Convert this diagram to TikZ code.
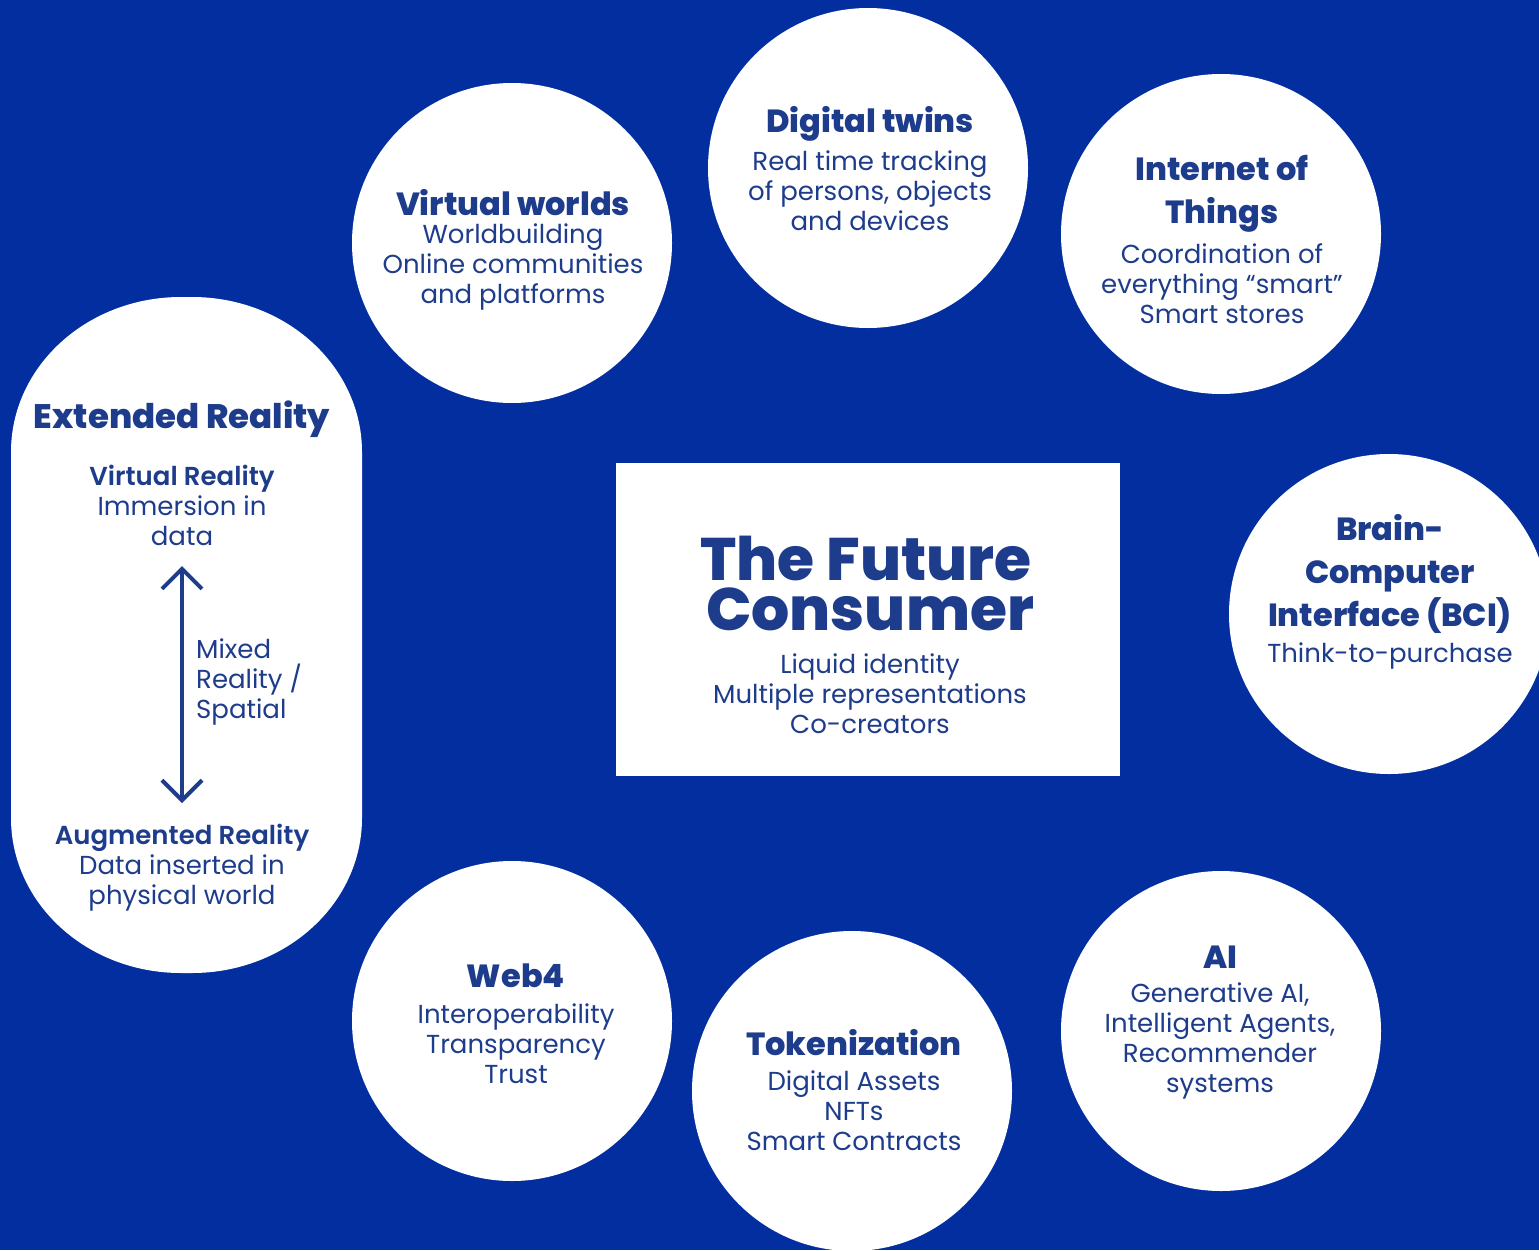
\documentclass[tikz,border=0pt]{standalone}
\usepackage{fontspec}
\setmainfont{Poppins}[BoldFont={* ExtraBold}]
\newfontfamily\semib{Poppins SemiBold}
\usetikzlibrary{arrows.meta}
\definecolor{bgblue}{RGB}{2,46,160}
\definecolor{ink}{RGB}{30,60,140}
\newcommand{\hd}{\fontsize{32}{43}\selectfont\bfseries}
\newcommand{\bd}{\fontsize{26}{30}\selectfont}
\newcommand{\sub}{\fontsize{26}{30}\selectfont\semib}
\newcommand{\ttl}{\fontsize{60}{50}\selectfont\bfseries}
\begin{document}
\begin{tikzpicture}[x=1pt,y=-1pt,
  bubble/.style={circle,fill=white,minimum size=320pt,inner sep=0pt},
  txt/.style={align=center,text=ink,inner sep=0pt}]
\fill[bgblue] (0,0) rectangle (1539,1250);
\useasboundingbox (0,0) rectangle (1539,1250);

% topic bubbles
\node[bubble] (vw) at (512,243) {};
\node[bubble] (dt) at (868,168) {};
\node[bubble] (iot) at (1221,234) {};
\node[bubble] (bci) at (1389,614) {};
\node[bubble] (ai) at (1221,1031) {};
\node[bubble] (tok) at (852,1091) {};
\node[bubble] (web) at (512,1021) {};

% extended reality panel (elliptical corners) and central box
\fill[white] (11,452)
  arc[start angle=180,end angle=270,x radius=170,y radius=155] -- (192,297)
  arc[start angle=270,end angle=360,x radius=170,y radius=155] -- (362,818)
  arc[start angle=0,end angle=90,x radius=170,y radius=155] -- (181,973)
  arc[start angle=90,end angle=180,x radius=170,y radius=155] -- cycle;
\fill[white] (616,463) rectangle (1120,776);

% bubble texts
\node[txt,font=\hd] (vwh) at (513,203) {Virtual worlds};
\node[txt,font=\bd] (vwb) at (513,267) {Worldbuilding\\Online communities\\and platforms};

\node[txt,font=\hd] (dth) at (870,124) {Digital twins};
\node[txt,font=\bd] (dtb) at (870,191) {Real time tracking\\of persons, objects\\and devices};

\node[txt,font=\hd] (ioth) at (1222,194) {Internet of\\Things};
\node[txt,font=\bd] (iotb) at (1222,284) {Coordination of\\everything “smart”\\Smart stores};

\node[txt,font=\hd] (bcih) at (1390,574) {Brain-\\Computer\\Interface (BCI)};
\node[txt,font=\bd] (bcib) at (1390,656) {Think-to-purchase};

\node[txt,font=\hd] (aih) at (1220,957) {AI};
\node[txt,font=\bd] (aib) at (1220,1041) {Generative AI,\\Intelligent Agents,\\Recommender\\systems};

\node[txt,font=\hd] (tokh) at (854,1043) {Tokenization};
\node[txt,font=\bd] (tokb) at (854,1111) {Digital Assets\\NFTs\\Smart Contracts};

\node[txt,font=\hd] (webh) at (516,976) {Web4};
\node[txt,font=\bd] (webb) at (516,1044) {Interoperability\\Transparency\\Trust};

% extended reality texts
\node[txt,font=\fontsize{34}{43}\selectfont\bfseries] (erh) at (182,419) {Extended Reality};
\node[txt,font=\bd] (vr) at (182,505) {{\sub Virtual Reality}\\Immersion in\\data};
\node[txt,font=\bd,align=left,anchor=west] (mr) at (196,682) {Mixed\\Reality /\\Spatial};
\node[txt,font=\bd] (ar) at (182,868) {{\sub Augmented Reality}\\Data inserted in\\physical world};
\coordinate (atop) at (182,566);
\coordinate (abot) at (182,803);
\draw[ink,line width=4pt,{Straight Barb[length=20pt,width=40pt,line width=4pt]}-{Straight Barb[length=20pt,width=40pt,line width=4pt]}] (atop) -- (abot);

% central title, two tightly set lines
\node[txt,font=\ttl,anchor=base,text depth=0pt] (title1) at (866,580) {The Future};
\node[txt,font=\ttl,anchor=base,text height=44pt] (title2) at (870,630) {Consumer};
\node[txt,font=\bd] (titleb) at (870,694) {Liquid identity\\Multiple representations\\Co-creators};
\end{tikzpicture}
\end{document}
